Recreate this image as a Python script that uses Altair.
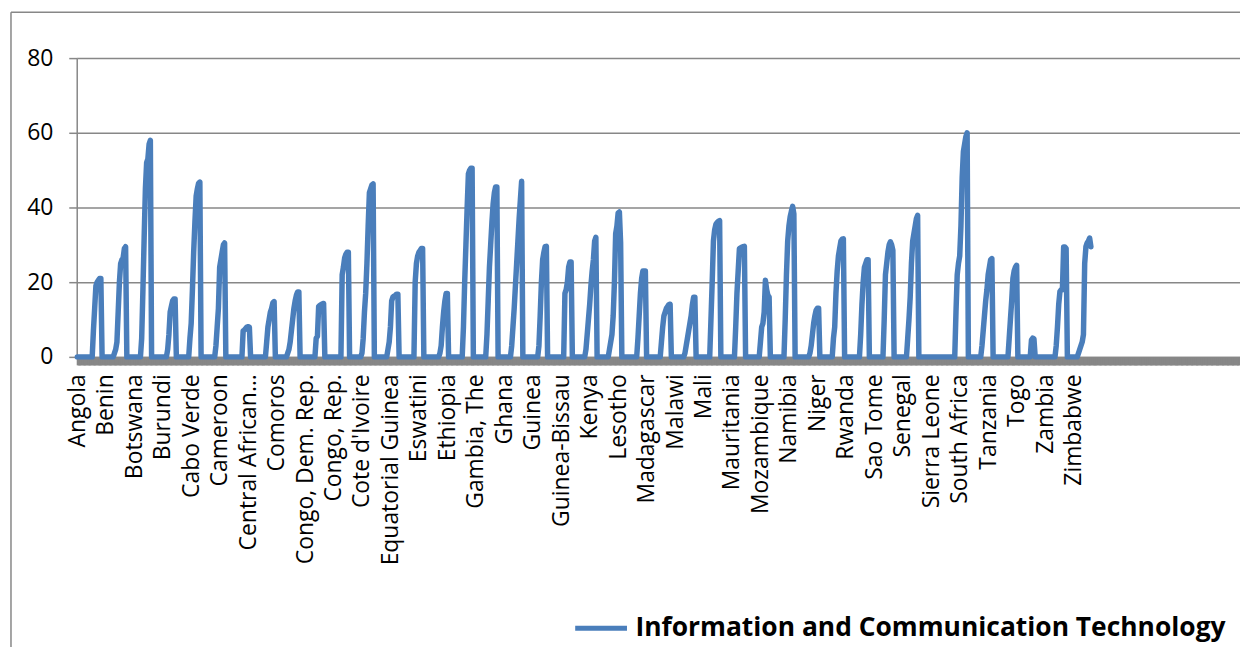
import json
import altair as alt
import pandas as pd

# ---------------- data ----------------
SERIES = "Information and Communication Technology"
N_YEARS = 20          # rows per country
LABEL_STEP = 23       # Excel shows a label every 23 categories
N_CATEGORIES = 940    # rows in the plotted range (last ones blank)

COUNTRIES = [
    "Angola", "Benin", "Botswana", "Burundi", "Cabo Verde", "Cameroon",
    "Central African Republic", "Chad", "Comoros", "Congo, Dem. Rep.",
    "Congo, Rep.", "Cote d'Ivoire", "Equatorial Guinea", "Eswatini",
    "Ethiopia", "Gabon", "Gambia, The", "Ghana", "Guinea", "Guinea-Bissau",
    "Kenya", "Lesotho", "Liberia", "Madagascar", "Malawi", "Mali",
    "Mauritania", "Mozambique", "Namibia", "Niger", "Nigeria", "Rwanda",
    "Sao Tome", "Senegal", "Sierra Leone", "South Africa", "Tanzania",
    "Togo", "Uganda", "Zambia", "Zimbabwe",
]

ICT = [
    [0]*13 + [7, 13, 19, 20, 20.5, 21, 21],                      # Angola
    [0]*10 + [1, 2, 4, 12, 20, 25, 26, 26.5, 29, 29.5],          # Benin
    [0]*12 + [5, 18, 32, 45, 52, 53, 57, 58],                    # Botswana
    [0]*13 + [2, 6, 12, 13.5, 15, 15.5, 15.5],                   # Burundi
    [0]*11 + [5, 9, 18, 28, 36, 43, 45, 46.5, 46.8],             # Cabo Verde
    [0]*12 + [3, 8, 13, 24, 26, 28, 30, 30.5],                   # Cameroon
    [0]*14 + [7, 7.2, 7.6, 8, 8.1, 8],                           # CAR
    [0]*13 + [4, 8, 10, 12, 13, 14.5, 14.8],                     # Chad
    [0]*10 + [1, 2, 4, 7, 10, 13, 15, 16.5, 17.4, 17.4],         # Comoros
    [0]*13 + [5, 5.5, 13.5, 13.8, 14, 14.2, 14.3],               # Congo DR
    [0]*14 + [22, 24, 26.5, 27.5, 28, 28],                       # Congo Rep
    [0]*10 + [1, 5, 12, 17, 25, 35, 44, 45, 46, 46.3],           # Cote d'Ivoire
    [0]*11 + [2, 4, 8, 15, 16, 16.3, 16.5, 16.8, 16.8],          # Eq. Guinea
    [0]*13 + [20, 25, 27, 28, 28.5, 29, 29],                     # Eswatini
    [0]*13 + [1, 3, 8, 12, 15, 17, 17],                          # Ethiopia
    [0]*12 + [8, 20, 30, 40, 49, 50, 50.5, 50.5],                # Gabon
    [0]*11 + [6, 15, 24, 30, 36, 41, 44, 45.5, 45.5],            # Gambia
    [0]*11 + [3, 8, 13, 19, 25, 31, 37, 42, 47],                 # Ghana
    [0]*13 + [3, 11, 20, 26, 28, 29.5, 29.6],                    # Guinea
    [0]*14 + [17, 18, 20, 24, 25.4, 25.4],                       # Guinea-Bissau
    [0]*11 + [2, 6, 10, 14, 19, 23, 26, 31, 32],                 # Kenya
    [0]*10 + [2, 4, 6, 11, 20, 33, 35, 38.5, 38.8, 30.5],        # Lesotho
    [0]*13 + [5, 11, 17, 21, 23, 23, 23],                        # Liberia
    [0]*12 + [4, 8, 11, 12, 13, 13.5, 14, 14.1],                 # Madagascar
    [0]*11 + [1, 3, 5, 7, 9, 11, 14, 16, 16],                    # Malawi
    [0]*12 + [10, 20, 31, 34, 35.5, 36, 36.3, 36.5],             # Mali
    [0]*12 + [8, 17, 23, 29, 29.2, 29.4, 29.5, 29.6],            # Mauritania
    [0]*12 + [4, 8, 9, 12, 20.5, 18, 16.5, 16],                  # Mozambique
    [0]*12 + [10, 22, 31, 35, 37.5, 39, 40.3, 38.3],             # Namibia
    [0]*12 + [1, 3, 6, 9, 11, 12.5, 13, 13],                     # Niger
    [0]*11 + [5, 8, 17, 23, 27, 29, 31, 31.5, 31.6],             # Nigeria
    [0]*13 + [6, 14, 20, 24, 25, 26, 26],                        # Rwanda
    [0]*12 + [10, 22, 25, 28, 30, 30.8, 30, 28.5],               # Sao Tome
    [0]*11 + [5, 10, 16, 25, 31, 33, 35, 37, 37.9],              # Senegal
    [0]*20,                                                      # Sierra Leone
    [0]*10 + [12, 22, 25, 27, 35, 48, 55, 57, 59, 60],           # South Africa
    [0]*11 + [3, 7, 11, 15, 18, 22, 24, 26, 26.3],               # Tanzania
    [0]*13 + [5, 10, 15, 21, 23, 24, 24.5],                      # Togo
    [0]*11 + [4.5, 5, 4.8] + [0]*6,                              # Uganda
    [0]*11 + [3, 8, 14, 17.5, 18, 18, 29.4, 29.4, 29],           # Zambia
    [0]*9 + [1, 2, 3, 4, 6, 25, 29.5, 30.5, 31, 31.8, 29.5],     # Zimbabwe
]

TICK_LABELS = [
    "Angola", "Benin", "Botswana", "Burundi", "Cabo Verde", "Cameroon",
    "Central African…", "Comoros", "Congo, Dem. Rep.", "Congo, Rep.",
    "Cote d'Ivoire", "Equatorial Guinea", "Eswatini", "Ethiopia",
    "Gambia, The", "Ghana", "Guinea", "Guinea-Bissau", "Kenya", "Lesotho",
    "Madagascar", "Malawi", "Mali", "Mauritania", "Mozambique", "Namibia",
    "Niger", "Rwanda", "Sao Tome", "Senegal", "Sierra Leone", "South Africa",
    "Tanzania", "Togo", "Zambia", "Zimbabwe",
]

Y_TICKS = [0, 20, 40, 60, 80]

# ---------------- build table ----------------
rows = []
for c, (name, vals) in enumerate(zip(COUNTRIES, ICT)):
    for i, v in enumerate(vals):
        idx = c * N_YEARS + i
        rows.append({"pos": idx + 0.5, "country": name, "value": v, "series": SERIES})
df = pd.DataFrame(rows)

GRAY = "#878787"
BLUE = "#4a7ebb"
FONT = "Open Sans"

lbl_arr = json.dumps(TICK_LABELS, ensure_ascii=False)
label_expr = (
    f"(round(datum.value - 0.5) % {LABEL_STEP} == 0 && "
    f"round(datum.value - 0.5) / {LABEL_STEP} < {len(TICK_LABELS)}) ? "
    f"{lbl_arr}[round(datum.value - 0.5) / {LABEL_STEP}] : ''"
)

line = alt.Chart(df).mark_line(
    strokeWidth=5.5, strokeJoin="round", strokeCap="round"
).encode(
    x=alt.X(
        "pos:Q",
        scale=alt.Scale(domain=[0, N_CATEGORIES], nice=False, zero=False),
        axis=alt.Axis(
            values=[m + 0.5 for m in range(N_CATEGORIES)],
            labelExpr=label_expr,
            labelAngle=270,
            labelAlign="right",
            labelBaseline="middle",
            labelOverlap=False,
            labelFlush=False,
            labelPadding=9,
            labelFont=FONT,
            labelFontSize=23,
            labelColor="#000000",
            labelLimit=0,
            tickSize=8,
            tickWidth=3,
            tickColor=GRAY,
            domainColor=GRAY,
            domainWidth=1.5,
            grid=False,
            title=None,
        ),
    ),
    y=alt.Y(
        "value:Q",
        scale=alt.Scale(domain=[0, 80], nice=False),
        axis=alt.Axis(
            values=Y_TICKS,
            grid=True,
            gridColor=GRAY,
            gridWidth=1.5,
            tickSize=8,
            tickWidth=1.5,
            tickColor=GRAY,
            domainColor=GRAY,
            domainWidth=1.5,
            labelFont=FONT,
            labelFontSize=23,
            labelColor="#000000",
            labelPadding=16,
            title=None,
        ),
    ),
    color=alt.Color(
        "series:N",
        scale=alt.Scale(range=[BLUE]),
        legend=alt.Legend(
            orient="none",
            legendX=498,
            legendY=544,
            title=None,
            symbolType="stroke",
            symbolSize=2704,
            symbolStrokeWidth=5,
            labelFont=FONT,
            labelFontWeight="bold",
            labelFontSize=26.5,
            labelColor="#000000",
            labelLimit=0,
            labelOffset=6,
        ),
    ),
)

frame_df = pd.DataFrame({"k": [0]})
border_left = alt.Chart(frame_df).mark_rule(color=GRAY, strokeWidth=1.5).encode(
    x=alt.value(-66), y=alt.value(-46), y2=alt.value(620)
)
border_top = alt.Chart(frame_df).mark_rule(color=GRAY, strokeWidth=1.5).encode(
    x=alt.value(-66), x2=alt.value(1200), y=alt.value(-46)
)

chart = alt.layer(border_left, border_top, line).properties(
    width=1168,
    height=300,
    padding={"left": 69, "top": 49, "right": 0, "bottom": 290},
    autosize=alt.AutoSizeParams(type="none"),
    background="white",
).configure_view(stroke=None)

chart.save("out.html", embed_options={"renderer": "svg", "actions": False})
